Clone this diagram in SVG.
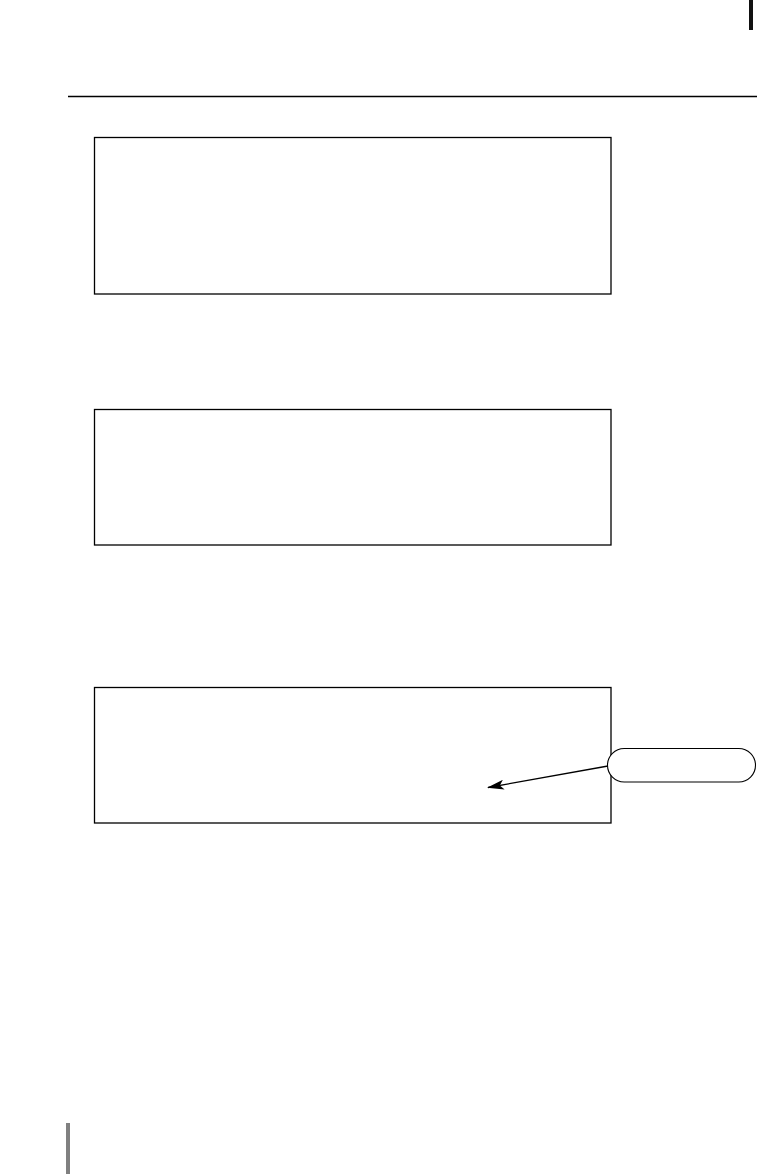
<svg xmlns="http://www.w3.org/2000/svg" width="757" height="1174" viewBox="0 0 757 1174">
<style>
.box{fill:#fff;stroke:#000;stroke-width:1.3}
.pill{fill:#fff;stroke:#000;stroke-width:1.1}
.conn{stroke:#000;stroke-width:1.3;fill:none}
</style>
<defs>
<marker id="ah" markerWidth="17" markerHeight="10" refX="16" refY="5" orient="auto" markerUnits="userSpaceOnUse">
<path d="M0,0 L17,5 L0,10 L4,5 Z" fill="#000"/>
</marker>
</defs>
<rect width="757" height="1174" fill="#fff"/>
<rect x="749" y="0" width="4" height="30" fill="#111"/>
<line x1="68" y1="96.5" x2="757" y2="96.5" stroke="#000" stroke-width="1.4"/>
<g id="box1"><rect class="box" x="94.5" y="137.5" width="516.5" height="156.5"/></g>
<g id="box2"><rect class="box" x="94.5" y="409.5" width="516.5" height="135.5"/></g>
<g id="box3"><rect class="box" x="94.5" y="687.5" width="516.5" height="135.5"/></g>
<g id="connectors"><line class="conn" x1="608" y1="766" x2="488" y2="787.5" marker-end="url(#ah)"/></g>
<g id="callout"><rect class="pill" x="607.5" y="748.5" width="148" height="33.5" rx="16.75" ry="16.75"/></g>
<rect x="66" y="1123" width="4" height="51" fill="#808080"/>
</svg>
